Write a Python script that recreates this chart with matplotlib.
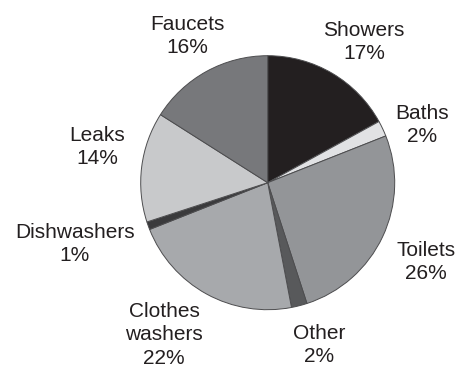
import matplotlib
matplotlib.use("Agg")
import matplotlib.pyplot as plt

# Household water use by end use (percent)
categories = ["Showers", "Baths", "Toilets", "Other", "Clothes\nwashers",
              "Dishwashers", "Leaks", "Faucets"]
shares = [17, 2, 26, 2, 22, 1, 14, 16]
colors = ["#231f20", "#e1e2e4", "#939598", "#58595b", "#a7a9ac",
          "#3a3a3c", "#c8c9cb", "#77787b"]

# label block centres, in pixels from the top-left corner
label_xy = [(364, 42), (422, 125), (426, 262), (319, 345), (164, 335),
            (75, 244), (97, 147), (187, 36)]

W, H = 456, 369
fig = plt.figure(figsize=(W / 100, H / 100), dpi=100)
ax = fig.add_axes([0, 0, 1, 1])

cx, cy, r = 267.7, H - 182.7, 127
ax.pie(shares, colors=colors, startangle=90, counterclock=False,
       center=(cx, cy), radius=r,
       wedgeprops=dict(edgecolor="#4d4d4f", linewidth=0.7))

for name, val, (x, y) in zip(categories, shares, label_xy):
    ax.text(x, H - y, f"{name}\n{val}%", ha="center", va="center",
            fontsize=15, family="Liberation Sans", color="#231f20",
            linespacing=1.32)

ax.set_xlim(0, W)
ax.set_ylim(0, H)
ax.set_aspect("equal")
ax.axis("off")
fig.savefig("out.png", dpi=100)
